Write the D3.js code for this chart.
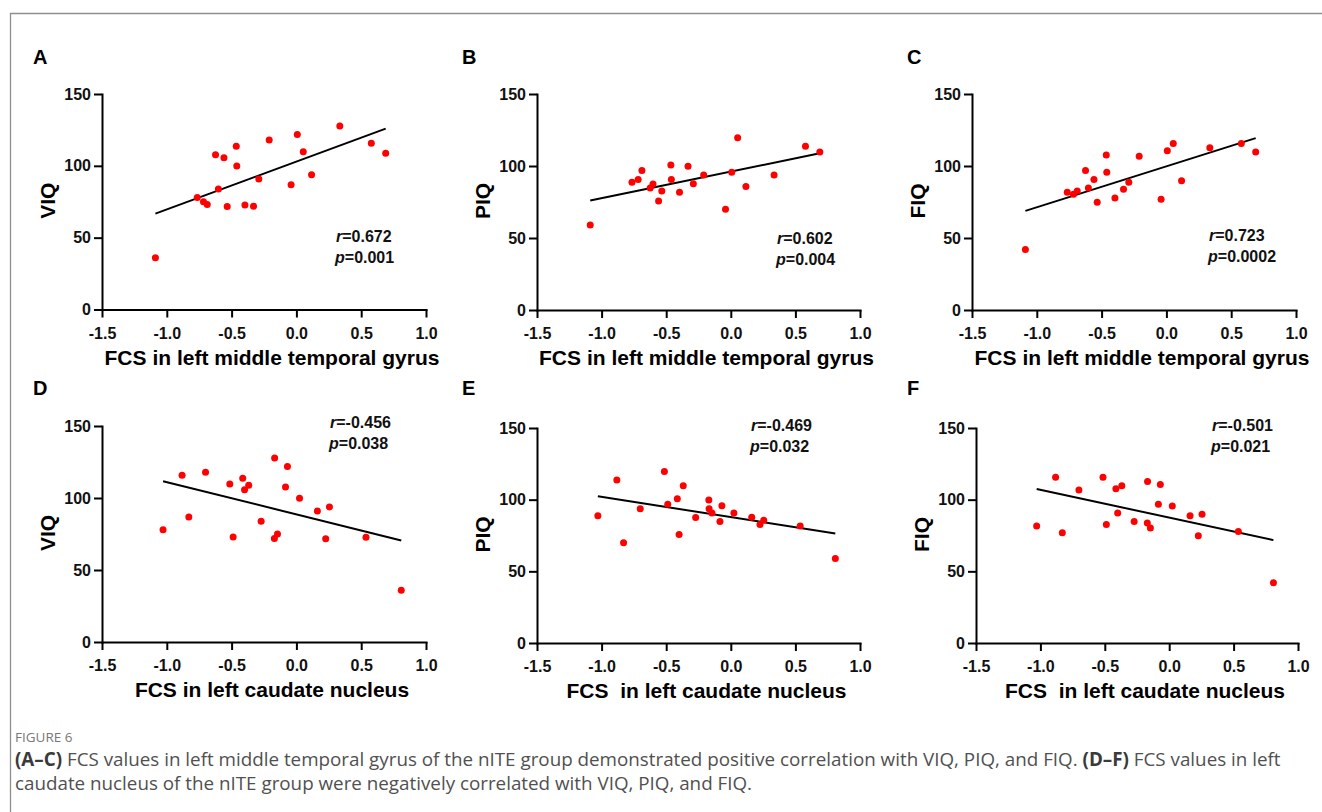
<!DOCTYPE html>
<html>
<head>
<meta charset="utf-8">
<script src="https://cdn.jsdelivr.net/npm/d3@7"></script>
<style>
  body { margin: 0; background: #fff; }
  svg text { font-family: Arial, "Liberation Sans", sans-serif; }
</style>
</head>
<body>
<svg id="fig" width="1322" height="812"></svg>
<script>
// one entry per subject (n = 21)
const mtgFCS = [-1.088, -0.765, -0.717, -0.688, -0.624, -0.602, -0.559, -0.534, -0.464, -0.460, -0.397,
                -0.331, -0.290, -0.210, -0.041, 0.007, 0.053, 0.117, 0.335, 0.578, 0.689];
const cnFCS  = [0.809, -1.029, -0.146, -0.488, -0.084, -0.272, -0.400, 0.226, -0.414, 0.024, 0.537,
                -0.170, 0.162, -0.701, -0.830, -0.069, -0.514, 0.255, -0.168, -0.882, -0.368];
const viq = [36, 78, 75, 73, 107.7, 83.8, 105.7, 71.7, 113.7, 99.8, 72.8,
             71.9, 90.9, 117.9, 86.8, 121.8, 109.8, 93.8, 127.8, 115.8, 108.8];
const piq = [59, 88.7, 90.7, 96.8, 84.7, 87.5, 75.7, 82.7, 100.7, 90.7, 81.7,
             99.8, 87.7, 93.7, 69.9, 95.7, 119.7, 85.7, 93.7, 113.7, 109.7];
const fiq = [42, 81.7, 80.3, 82.6, 96.8, 84.7, 90.7, 74.8, 107.6, 95.6, 77.8,
             83.8, 88.7, 106.7, 76.9, 110.6, 115.7, 89.8, 112.7, 115.7, 109.7];

const xTicks = [-1.5, -1.0, -0.5, 0.0, 0.5, 1.0];
const yTicks = [0, 50, 100, 150];

const panelLetters = ["A", "B", "C", "D", "E", "F"];
const yTitles = ["VIQ", "PIQ", "FIQ", "VIQ", "PIQ", "FIQ"];
const xTitles = [
  "FCS in left middle temporal gyrus", "FCS in left middle temporal gyrus", "FCS in left middle temporal gyrus",
  "FCS in left caudate nucleus", "FCS  in left caudate nucleus", "FCS  in left caudate nucleus"
];
const rValues = ["0.672", "0.602", "0.723", "-0.456", "-0.469", "-0.501"];
const pValues = ["0.001", "0.004", "0.0002", "0.038", "0.032", "0.021"];

const captionHead = "FIGURE 6";
const captionLines = [
  [["(A\u2013C)", true], [" FCS values in left middle temporal gyrus of the nITE group demonstrated positive correlation with VIQ, PIQ, and FIQ. ", false], ["(D\u2013F)", true], [" FCS values in left", false]],
  [["caudate nucleus of the nITE group were negatively correlated with VIQ, PIQ, and FIQ.", false]]
];

// layout
const frames = [
  { left: 102, right: 426, top: 94,  bottom: 309.5 },
  { left: 537, right: 860, top: 94,  bottom: 310 },
  { left: 972, right: 1296, top: 94, bottom: 310 },
  { left: 102, right: 426, top: 426, bottom: 642 },
  { left: 537, right: 860, top: 428, bottom: 643 },
  { left: 976, right: 1298, top: 428, bottom: 643 }
];
const letterPos = [[33, 64], [462, 64], [907, 64], [33, 395], [462, 395], [907, 395]];
const statPos = [[336, 242], [777, 244], [1209, 241], [330, 428], [751, 431], [1212, 431]];

const svg = d3.select("#fig");

// outer frame (only top and left edges are visible)
svg.append("path")
  .attr("d", "M10.5,812 V13.5 H1322")
  .attr("fill", "none")
  .attr("stroke", "#8f8f8f")
  .attr("stroke-width", 1.3);

function fitLine(xs, ys) {
  const mx = d3.mean(xs), my = d3.mean(ys);
  let sxy = 0, sxx = 0;
  xs.forEach((x, i) => { sxy += (x - mx) * (ys[i] - my); sxx += (x - mx) * (x - mx); });
  const slope = sxy / sxx;
  return { slope, intercept: my - slope * mx };
}

frames.forEach((f, i) => {
  const xs = i < 3 ? mtgFCS : cnFCS;
  const ys = [viq, piq, fiq][i % 3];

  const x = d3.scaleLinear().domain([-1.5, 1.0]).range([f.left, f.right]);
  const y = d3.scaleLinear().domain([0, 150]).range([f.bottom, f.top]);

  const g = svg.append("g");

  // panel letter
  g.append("text")
    .attr("x", letterPos[i][0]).attr("y", letterPos[i][1])
    .attr("font-size", 20).attr("font-weight", "bold")
    .text(panelLetters[i]);

  // axes
  const yAxis = g.append("g")
    .attr("transform", `translate(${f.left},0)`)
    .call(d3.axisLeft(y).tickValues(yTicks).tickSize(8).tickSizeOuter(0).tickPadding(3).tickFormat(d => d));
  const xAxis = g.append("g")
    .attr("transform", `translate(0,${f.bottom})`)
    .call(d3.axisBottom(x).tickValues(xTicks).tickSize(8).tickSizeOuter(0).tickPadding(10).tickFormat(d => d.toFixed(1)));

  [yAxis, xAxis].forEach(a => {
    a.select(".domain").attr("stroke", "#000").attr("stroke-width", 2).attr("stroke-linecap", "square");
    a.selectAll(".tick line").attr("stroke", "#000").attr("stroke-width", 2);
    a.selectAll(".tick text")
      .attr("fill", "#111")
      .attr("font-size", 16).attr("font-weight", "bold")
      .style("font-family", "Arial, 'Liberation Sans', sans-serif");
  });

  // axis titles
  g.append("text")
    .attr("x", (f.left + f.right) / 2 + 8).attr("y", f.bottom + 55)
    .attr("text-anchor", "middle")
    .attr("font-size", 21).attr("font-weight", "bold")
    .style("white-space", "pre")
    .text(xTitles[i]);

  g.append("text")
    .attr("transform", `translate(${f.left - 54},${(f.top + f.bottom) / 2 - 1}) rotate(-90)`)
    .attr("dy", "0.35em")
    .attr("text-anchor", "middle")
    .attr("font-size", 21).attr("font-weight", "bold")
    .text(yTitles[i]);

  // regression line
  const fit = fitLine(xs, ys);
  const x0 = d3.min(xs), x1 = d3.max(xs);
  g.append("line")
    .attr("x1", x(x0)).attr("y1", y(fit.intercept + fit.slope * x0))
    .attr("x2", x(x1)).attr("y2", y(fit.intercept + fit.slope * x1))
    .attr("stroke", "#000").attr("stroke-width", 2);

  // points
  g.selectAll("circle")
    .data(xs.map((d, k) => [d, ys[k]]))
    .join("circle")
    .attr("cx", d => x(d[0])).attr("cy", d => y(d[1]))
    .attr("r", 3.5)
    .attr("fill", "#ff0000");

  // statistics
  const st = g.append("text")
    .attr("font-size", 16).attr("font-weight", "bold").attr("fill", "#111");
  const rLine = st.append("tspan").attr("x", statPos[i][0]).attr("y", statPos[i][1]);
  rLine.append("tspan").attr("font-style", "italic").text("r");
  rLine.append("tspan").text("=" + rValues[i]);
  const pLine = st.append("tspan").attr("x", statPos[i][0] - 1).attr("y", statPos[i][1] + 20.5);
  pLine.append("tspan").attr("font-style", "italic").text("p");
  pLine.append("tspan").text("=" + pValues[i]);
});

// caption
const capFont = "'Open Sans', 'Noto Sans', sans-serif";
svg.append("text")
  .attr("x", 15).attr("y", 742)
  .attr("font-size", 13.5).attr("fill", "#777")
  .style("font-family", capFont)
  .text(captionHead);

const capLines = captionLines.map((parts, li) => {
  const t = svg.append("text")
    .attr("x", 15).attr("y", 766 + li * 23.5)
    .attr("font-size", 16).attr("fill", "#505050")
    .style("font-family", capFont)
    .style("white-space", "pre");
  parts.forEach(([s, bold]) => {
    t.append("tspan").attr("font-weight", bold ? "bold" : "normal").attr("fill", bold ? "#3a3a3a" : null).text(s);
  });
  return t;
});
// size the caption so the first line runs to its right edge
const w = capLines[0].node().getComputedTextLength();
const fs = 16 * 1267 / w;
capLines.forEach(t => t.attr("font-size", fs));
</script>
</body>
</html>
